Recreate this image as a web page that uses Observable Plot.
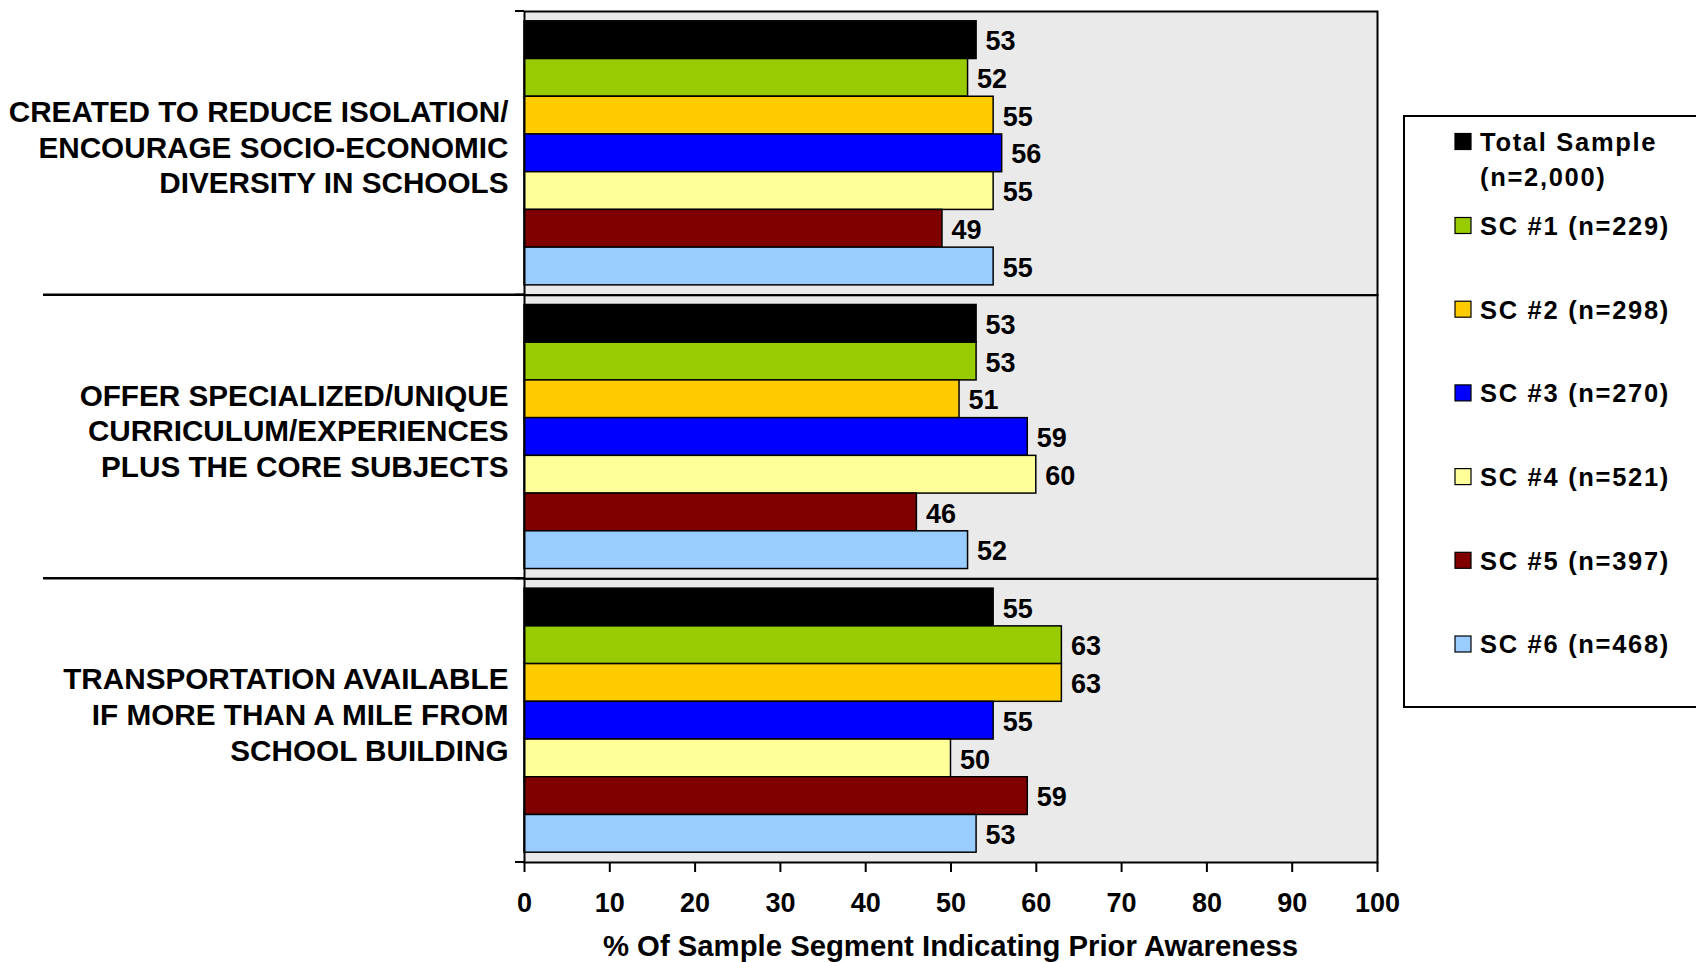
<!DOCTYPE html>
<html>
<head>
<meta charset="utf-8">
<script src="https://cdn.jsdelivr.net/npm/d3@7"></script>
<script src="https://cdn.jsdelivr.net/npm/@observablehq/plot@0.6"></script>
<style>
  html, body { margin: 0; padding: 0; background: #fff; }
  #chart { position: relative; width: 1696px; height: 962px; overflow: hidden; }
  #chart svg { display: block; }
</style>
</head>
<body>
<div id="chart"></div>
<script>
// Statements rated for prior awareness, one facet per statement
const categories = [
  "CREATED TO REDUCE ISOLATION/\nENCOURAGE SOCIO-ECONOMIC\nDIVERSITY IN SCHOOLS",
  "OFFER SPECIALIZED/UNIQUE\nCURRICULUM/EXPERIENCES\nPLUS THE CORE SUBJECTS",
  "TRANSPORTATION AVAILABLE\nIF MORE THAN A MILE FROM\nSCHOOL BUILDING"
];

// Sample segments (legend order = bar order)
const series = [
  "Total Sample\n(n=2,000)",
  "SC #1 (n=229)",
  "SC #2 (n=298)",
  "SC #3 (n=270)",
  "SC #4 (n=521)",
  "SC #5 (n=397)",
  "SC #6 (n=468)"
];
const seriesColors = ["#000000", "#99cc00", "#ffcc00", "#0000ff", "#ffff99", "#800000", "#99ccff"];

// % of each segment indicating prior awareness
const reduceIsolationValues = [53, 52, 55, 56, 55, 49, 55];
const specializedCurriculumValues = [53, 53, 51, 59, 60, 46, 52];
const transportationValues = [55, 63, 63, 55, 50, 59, 53];

const xTicks = [0, 10, 20, 30, 40, 50, 60, 70, 80, 90, 100];
const xLabel = "% Of Sample Segment Indicating Prior Awareness";

const valuesByCategory = [reduceIsolationValues, specializedCurriculumValues, transportationValues];
const rows = categories.flatMap((category, i) =>
  series.map((s, j) => ({category, series: s, value: valuesByCategory[i][j]}))
);

const FONT = "'Liberation Sans', Arial, Helvetica, sans-serif";

const plot = Plot.plot({
  width: 1696,
  height: 962,
  marginLeft: 524,
  marginRight: 319,
  marginTop: 11,
  marginBottom: 100,
  style: {fontFamily: FONT, fontWeight: "bold", background: "transparent", color: "black", overflow: "visible"},
  fy: {domain: categories, padding: 0, round: false, axis: null},
  y: {domain: series, paddingInner: 0, paddingOuter: 0.26, round: false, axis: null},
  x: {domain: [0, 100]},
  color: {domain: series, range: seriesColors},
  marks: [
    Plot.frame({fill: "#eaeaea", stroke: null}),
    Plot.barX(rows, {x: "value", y: "series", fy: "category", fill: "series", stroke: "black", strokeWidth: 1.5}),
    Plot.text(rows, {
      x: "value", y: "series", fy: "category", text: d => String(d.value),
      textAnchor: "start", dx: 9, dy: 1.5, fontSize: 27, fontWeight: "bold", fill: "black"
    }),
    Plot.text(categories, {
      fy: d => d, text: d => d, frameAnchor: "left", textAnchor: "end",
      dx: -16, dy: -7, fontSize: 29.7, lineHeight: 1.2, fontWeight: "bold", fill: "black"
    }),
    Plot.frame({stroke: "black", strokeWidth: 2}),
    Plot.axisX({
      ticks: xTicks, tickSize: 10, tickPadding: 20, strokeWidth: 2,
      fontSize: 27, fontWeight: "bold", label: null
    })
  ]
});

document.getElementById("chart").appendChild(plot);

// Group separators, boundary ticks, axis title and legend drawn on top of the plot
const svg = d3.select(plot);
const fy = plot.scale("fy");
const xs = plot.scale("x");
const fyBand = d3.scaleBand().domain(fy.domain).range(fy.range).paddingInner(0).paddingOuter(0);
const bandTop = c => (fy.apply ? fy.apply(c) : fyBand(c));
const step = fyBand.step();
const xPos = v => (xs.apply ? xs.apply(v) : d3.scaleLinear(xs.domain, xs.range)(v));
const x0 = xPos(0);

const deco = svg.append("g").attr("stroke", "black");
categories.forEach((c, i) => {
  const top = bandTop(c);
  if (i > 0) {
    deco.append("line").attr("x1", 43).attr("x2", x0).attr("y1", top).attr("y2", top).attr("stroke-width", 2.5);
  }
  deco.append("line").attr("x1", x0 - 9).attr("x2", x0).attr("y1", top).attr("y2", top).attr("stroke-width", 2);
});
const bottomEdge = bandTop(categories[categories.length - 1]) + step;
deco.append("line").attr("x1", x0 - 9).attr("x2", x0).attr("y1", bottomEdge).attr("y2", bottomEdge).attr("stroke-width", 2);

// x-axis title, centred under the plot frame
svg.append("text")
  .attr("x", (xPos(0) + xPos(100)) / 2).attr("y", 956)
  .attr("text-anchor", "middle").attr("font-family", FONT).attr("font-weight", "bold")
  .attr("font-size", 29.3).attr("fill", "black")
  .text(xLabel);

// Legend
const legend = svg.append("g")
  .attr("font-family", FONT).attr("font-weight", "bold").attr("font-size", 25.5)
  .attr("letter-spacing", "1.7px").attr("text-anchor", "start");
legend.append("rect")
  .attr("x", 1404).attr("y", 116).attr("width", 400).attr("height", 591)
  .attr("fill", "white").attr("stroke", "black").attr("stroke-width", 2);

const color = plot.scale("color");
const legendRowY = (i) => i === 0 ? 142 : 226 + (i - 1) * 83.7;
series.forEach((s, i) => {
  const cy = legendRowY(i);
  const fill = color.apply ? color.apply(s) : seriesColors[i];
  legend.append("rect")
    .attr("x", 1455).attr("y", cy - 8.5).attr("width", 16).attr("height", 16)
    .attr("fill", fill).attr("stroke", "black").attr("stroke-width", 1.2);
  const t = legend.append("text").attr("x", 1480).attr("y", cy).attr("fill", "black");
  s.split("\n").forEach((line, k) => {
    t.append("tspan").attr("x", 1480).attr("y", cy + k * 34.6).attr("dy", "0.35em").text(line);
  });
});
</script>
</body>
</html>
